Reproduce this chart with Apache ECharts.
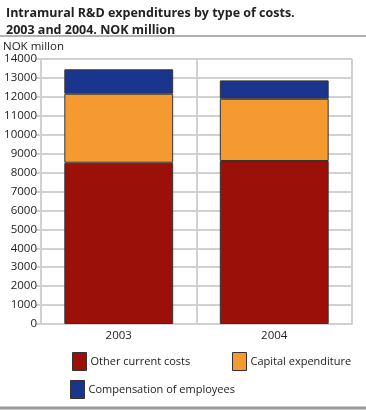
<!DOCTYPE html>
<html><head><meta charset="utf-8">
<script src="https://cdn.jsdelivr.net/npm/echarts@6/dist/echarts.min.js"></script>
<style>html,body{margin:0;padding:0;background:#fff}#c{width:366px;height:410px}</style>
</head><body><div id="c"></div>
<script>
var categories = ['2003', '2004'];
var otherCurrentCosts = [8520, 8610];
var capitalExpenditure = [3645, 3290];
var compensationOfEmployees = [1290, 970];
var seriesNames = ['Other current costs', 'Capital expenditure', 'Compensation of employees'];
var colors = ['#9b1009', '#f59a31', '#1b358f'];

var chart = echarts.init(document.getElementById('c'), null, {renderer: 'canvas'});
var font = 'Open Sans';
function legendAt(i, left, top) {
  return {
    data: [seriesNames[i]], left: left, top: top, orient: 'horizontal',
    itemWidth: 14, itemHeight: 18, itemGap: 4, padding: 0,
    icon: 'rect',
    textStyle: {fontFamily: font, fontSize: 11, color: '#222', padding: [2, 0, 0, -1]},
    itemStyle: {borderColor: '#333', borderWidth: 1}
  };
}
chart.setOption({
  animation: false,
  textStyle: {fontFamily: font},
  title: {
    text: 'Intramural R&D expenditures by type of costs.\n2003 and 2004. NOK million',
    left: 1, top: 0,
    textStyle: {fontFamily: font, fontWeight: 'bold', fontSize: 12.5, lineHeight: 17, color: '#222'}
  },
  legend: [legendAt(0, 72, 352), legendAt(1, 232, 352), legendAt(2, 70, 380)],
  grid: {left: 40, right: 14, top: 59, bottom: 86},
  xAxis: {
    type: 'category', data: categories,
    axisLine: {show: true, lineStyle: {color: '#d0d0d0', width: 2}},
    axisTick: {show: false},
    splitLine: {show: true, lineStyle: {color: '#d0d0d0', width: 2}},
    axisLabel: {fontFamily: font, fontSize: 11.5, color: '#222', margin: 6}
  },
  yAxis: {
    type: 'value', min: 0, max: 14000, interval: 1000,
    name: 'NOK millon', nameLocation: 'end', nameGap: 6,
    nameTextStyle: {fontFamily: font, fontSize: 11.5, color: '#222', align: 'left', padding: [0, 0, 0, -38]},
    axisLine: {show: true, lineStyle: {color: '#d0d0d0', width: 2}},
    axisTick: {show: true, length: 5, lineStyle: {color: '#d0d0d0', width: 2}},
    splitLine: {show: true, lineStyle: {color: '#d0d0d0', width: 2}},
    axisLabel: {fontFamily: font, fontSize: 11.5, color: '#222', margin: 4,
      formatter: function (v) { return String(v); }}
  },
  series: [
    {name: seriesNames[0], type: 'bar', stack: 't', data: otherCurrentCosts, barWidth: '70%',
     itemStyle: {color: colors[0], borderColor: '#333', borderWidth: 1}},
    {name: seriesNames[1], type: 'bar', stack: 't', data: capitalExpenditure, barWidth: '70%',
     itemStyle: {color: colors[1], borderColor: '#333', borderWidth: 1}},
    {name: seriesNames[2], type: 'bar', stack: 't', data: compensationOfEmployees, barWidth: '70%',
     itemStyle: {color: colors[2], borderColor: '#333', borderWidth: 1}}
  ],
  graphic: [
    {type: 'line', shape: {x1: 0, y1: 36, x2: 366, y2: 36}, style: {stroke: '#999', lineWidth: 1.5}},
    {type: 'line', shape: {x1: 0, y1: 408, x2: 366, y2: 408}, style: {stroke: '#999', lineWidth: 3}}
  ]
});
</script></body></html>
